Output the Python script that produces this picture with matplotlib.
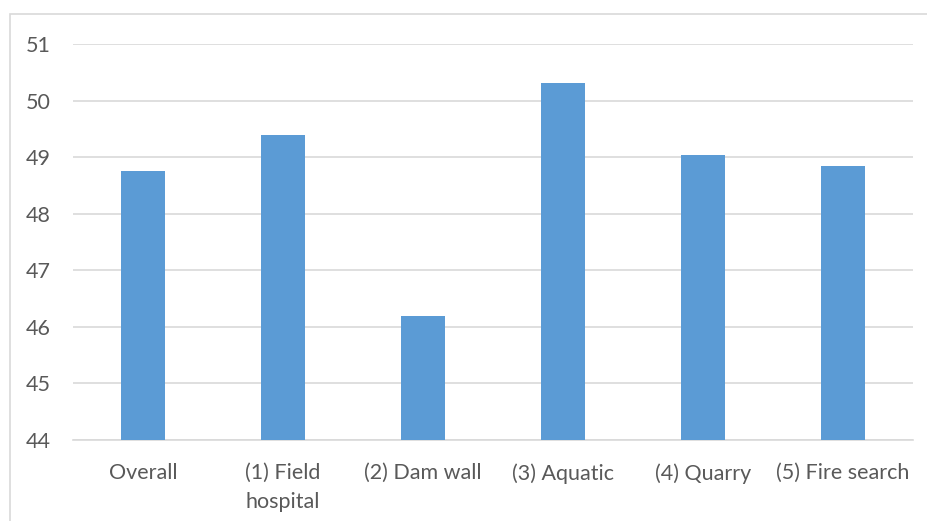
import matplotlib
matplotlib.use("Agg")
import matplotlib.pyplot as plt
from matplotlib.patches import Rectangle

categories = ["Overall", "(1) Field\nhospital", "(2) Dam wall", "(3) Aquatic", "(4) Quarry", "(5) Fire search"]
values = [48.75, 49.39, 46.19, 50.31, 49.04, 48.84]
yticks = [44, 45, 46, 47, 48, 49, 50, 51]

plt.rcParams['font.family'] = ['Lato', 'DejaVu Sans']

fig = plt.figure(figsize=(9.28, 5.21), dpi=100)
W, H = 928, 521
ax = fig.add_axes([73 / W, 1 - 440 / H, (913 - 73) / W, (440 - 44) / H])

x = range(len(categories))
ax.bar(x, values, width=0.314, color="#5b9bd5", bottom=0, zorder=3)
ax.set_ylim(44, 51)
ax.set_xlim(-0.5, len(categories) - 0.5)
ax.set_yticks(yticks)
ax.set_yticklabels([str(t) for t in yticks])
ax.set_xticks(list(x))
ax.set_xticklabels(categories, linespacing=1.55, va="top")
ax.grid(axis="y", color="#d9d9d9", linewidth=1.2, zorder=0)
for s in ["top", "right", "left"]:
    ax.spines[s].set_visible(False)
ax.spines["bottom"].set_color("#d9d9d9")
ax.spines["bottom"].set_linewidth(1.2)
ax.tick_params(axis="both", length=0, labelsize=15.5, colors="#595959")
ax.tick_params(axis="y", pad=16)
ax.tick_params(axis="x", pad=16.5)
for lbl in ax.get_xticklabels():
    lbl.set_multialignment("left")

fig.patches.append(Rectangle((10 / W, -0.01), (W - 10) / W + 0.01, 1 - 14 / H + 0.01,
                             transform=fig.transFigure, fill=False,
                             edgecolor="#d9d9d9", linewidth=1.2))

fig.savefig("out.png", dpi=100, facecolor="white")
